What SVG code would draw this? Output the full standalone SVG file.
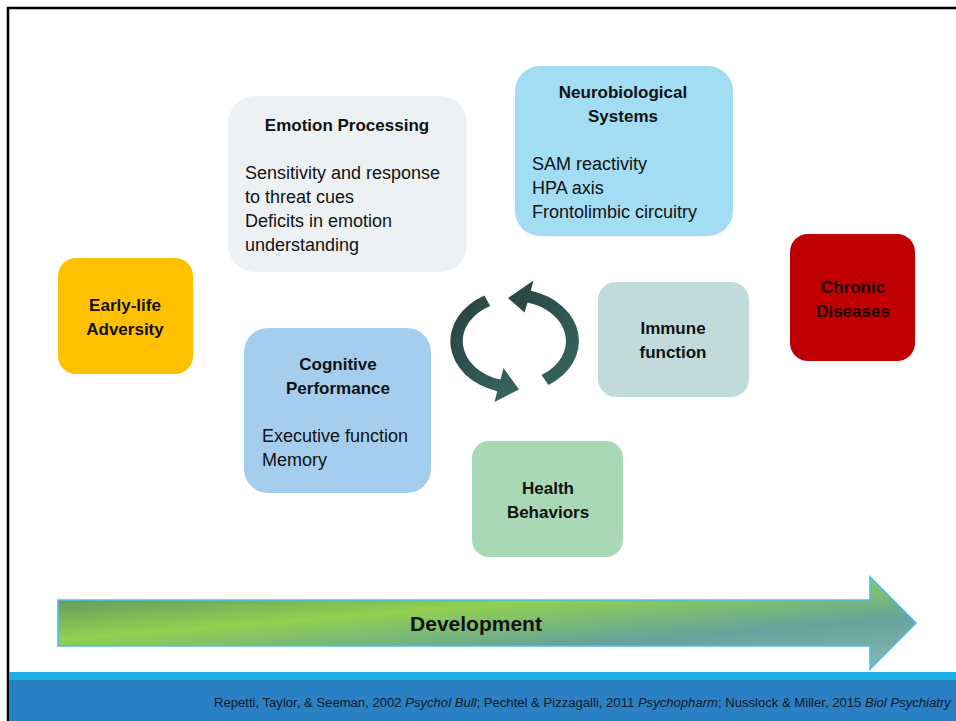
<svg xmlns="http://www.w3.org/2000/svg" width="956" height="721" viewBox="0 0 956 721">
  <style>
    .title { font-family: "Liberation Sans", Arial, sans-serif; font-size: 17px; font-weight: bold; fill: #111; text-anchor: middle; }
    .body { font-family: "Liberation Sans", Arial, sans-serif; font-size: 18px; fill: #111; }
    .cite { font-family: "Liberation Sans", Arial, sans-serif; font-size: 13.1px; fill: #101a2a; }
    .dev { font-family: "Liberation Sans", Arial, sans-serif; font-size: 21px; font-weight: bold; fill: #111; text-anchor: middle; }
  </style>
  <defs>
    <linearGradient id="devFill" gradientUnits="userSpaceOnUse" x1="58" y1="592" x2="71" y2="750">
      <stop offset="0" stop-color="#5e9160"/>
      <stop offset="0.3" stop-color="#92d050"/>
      <stop offset="0.6" stop-color="#65a39c"/>
      <stop offset="0.95" stop-color="#8dbbb3"/>
    </linearGradient>
    <linearGradient id="cycleFill" x1="0" y1="0" x2="1" y2="1">
      <stop offset="0" stop-color="#27423f"/>
      <stop offset="1" stop-color="#386761"/>
    </linearGradient>
  </defs>

  <!-- page background and frame -->
  <rect x="0" y="0" width="956" height="721" fill="#ffffff"/>
  <path d="M8,721 L8,8 L956,8" fill="none" stroke="#000" stroke-width="2.5"/>

  <!-- footer band -->
  <rect x="9" y="672" width="947" height="8" fill="#1daee6"/>
  <rect x="9" y="680" width="947" height="41" fill="#2a80c4"/>
  <text class="cite" x="214" y="707">Repetti, Taylor, &amp; Seeman, 2002 <tspan font-style="italic">Psychol Bull</tspan>; Pechtel &amp; Pizzagalli, 2011 <tspan font-style="italic">Psychopharm</tspan>; Nusslock &amp; Miller, 2015 <tspan font-style="italic">Biol Psychiatry</tspan></text>

  <!-- development arrow -->
  <g id="development">
    <path d="M58,600 L870,600 L870,577 L916,623 L870,669 L870,646 L58,646 Z" fill="url(#devFill)" stroke="#4dbde9" stroke-width="1.6"/>
    <text class="dev" x="476" y="631">Development</text>
  </g>

  <!-- cycle arrows in the centre -->
  <g id="connectors">
    <path d="M484.5,295.5 A65,52 0 0 0 497.2,391.2 L494.5,402 L519,389.5 L503.5,368 L500.5,379.6 A52,40 0 0 1 490.2,305.9 Z" fill="url(#cycleFill)"/>
    <path d="M548.4,385.1 A65,52 0 0 0 530.8,290.8 L533.5,280.5 L508,298 L524.5,312.5 L527.5,302.4 A52,40 0 0 1 541.6,374.9 Z" fill="url(#cycleFill)"/>
  </g>

  <g id="emotion-processing">
    <rect x="228" y="96" width="239" height="176" rx="27" fill="#eef1f4"/>
    <text class="title" x="347" y="131">Emotion Processing</text>
    <text class="body" x="245" y="179">Sensitivity and response</text>
    <text class="body" x="245" y="203">to threat cues</text>
    <text class="body" x="245" y="227">Deficits in emotion</text>
    <text class="body" x="245" y="251">understanding</text>
  </g>

  <g id="neurobiological-systems">
    <rect x="515" y="66" width="218" height="170" rx="25" fill="#a3ddf3"/>
    <text class="title" x="623" y="98">Neurobiological</text>
    <text class="title" x="623" y="122">Systems</text>
    <text class="body" x="532" y="170">SAM reactivity</text>
    <text class="body" x="532" y="194">HPA axis</text>
    <text class="body" x="532" y="218">Frontolimbic circuitry</text>
  </g>

  <g id="early-life-adversity">
    <rect x="58" y="258" width="135" height="116" rx="18" fill="#ffc000"/>
    <text class="title" x="125" y="311">Early-life</text>
    <text class="title" x="125" y="335">Adversity</text>
  </g>

  <g id="cognitive-performance">
    <rect x="244" y="328" width="187" height="165" rx="24" fill="#a5cdee"/>
    <text class="title" x="338" y="370">Cognitive</text>
    <text class="title" x="338" y="394">Performance</text>
    <text class="body" x="262" y="442">Executive function</text>
    <text class="body" x="262" y="466">Memory</text>
  </g>

  <g id="immune-function">
    <rect x="598" y="282" width="151" height="115" rx="18" fill="#c1dbdb"/>
    <text class="title" x="673" y="334">Immune</text>
    <text class="title" x="673" y="358">function</text>
  </g>

  <g id="health-behaviors">
    <rect x="472" y="441" width="151" height="116" rx="17" fill="#a9d8b6"/>
    <text class="title" x="548" y="494">Health</text>
    <text class="title" x="548" y="518">Behaviors</text>
  </g>

  <g id="chronic-diseases">
    <rect x="790" y="234" width="125" height="127" rx="18" fill="#c00000"/>
    <text class="title" x="853" y="293" style="fill:#1a0000">Chronic</text>
    <text class="title" x="853" y="317" style="fill:#1a0000">Diseases</text>
  </g>
</svg>
